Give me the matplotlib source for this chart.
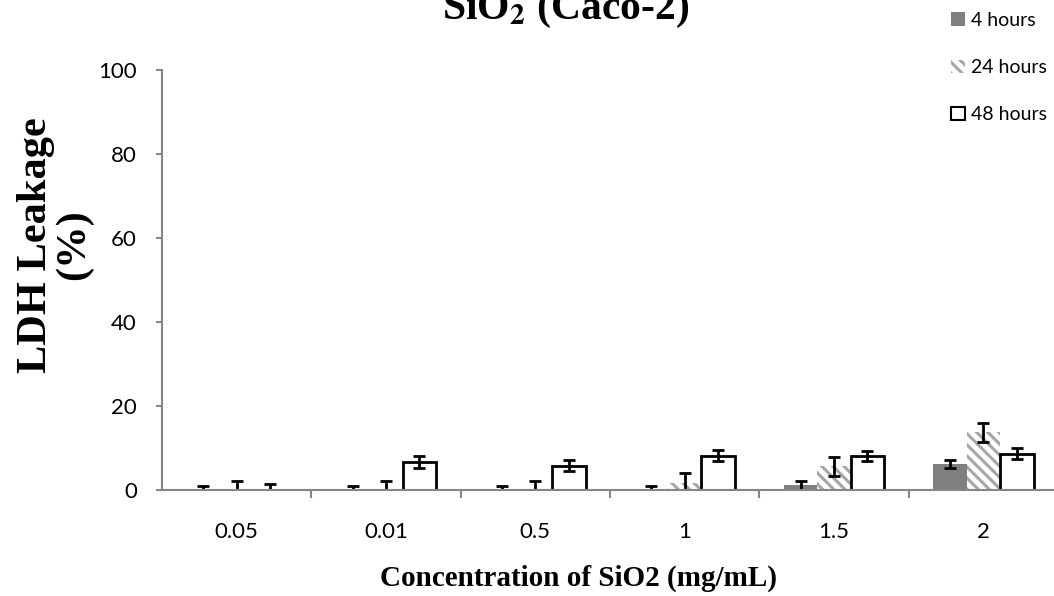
import matplotlib.pyplot as plt
import matplotlib.patches as mpatches
import numpy as np

# Data
categories = ['0.05', '0.01', '0.5', '1', '1.5', '2']
labels = ['4 hours', '24 hours', '48 hours']
h4 = [0, 0, 0, 0, 1.1, 6.2]
h4_err = [1.0, 1.0, 1.0, 1.0, 1.0, 1.0]
h24 = [0, 0, 0, 1.6, 5.6, 13.7]
h24_err = [2.2, 2.2, 2.2, 2.4, 2.2, 2.2]
h48 = [0, 6.7, 5.8, 8.2, 8.1, 8.6]
h48_err = [1.4, 1.4, 1.3, 1.3, 1.3, 1.3]

plt.rcParams['hatch.linewidth'] = 2.2
plt.rcParams['hatch.color'] = '#a6a6a6'
plt.rcParams['mathtext.fontset'] = 'stix'

W, H = 1054, 596
fig = plt.figure(figsize=(W / 100, H / 100), dpi=100)
ax = fig.add_axes([162 / W, 1 - 490 / H, 896 / W, 420 / H])

x = np.arange(len(categories))
w = 0.224
grey = '#868686'
err_kw = dict(ecolor='black', elinewidth=2, capsize=4.5, capthick=2)

ax.bar(x - w, h4, w, color='#7f7f7f', linewidth=0, zorder=2)
ax.bar(x, h24, w, color='white', hatch='\\\\\\', edgecolor='#a6a6a6',
       linewidth=0, zorder=2)
ax.bar(x + w, h48, w, color='white', edgecolor='black',
       linewidth=[2 if v > 0 else 0 for v in h48], zorder=2)
ax.errorbar(x - w, h4, yerr=h4_err, fmt='none', zorder=3, **err_kw)
ax.errorbar(x, h24, yerr=h24_err, fmt='none', zorder=3, **err_kw)
ax.errorbar(x + w, h48, yerr=h48_err, fmt='none', zorder=3, **err_kw)

ax.set_xlim(-0.5, len(categories) - 0.5)
ax.set_ylim(0, 100)
ax.set_yticks(np.arange(0, 101, 20))

for s in ['top', 'right']:
    ax.spines[s].set_visible(False)
for s in ['left', 'bottom']:
    ax.spines[s].set_color(grey)
    ax.spines[s].set_linewidth(1.5)
    ax.spines[s].set_zorder(4)

tick_font = dict(family='Lato', size=16)
ax.set_xticks(x)
ax.set_xticklabels(categories, fontdict=tick_font)
ax.set_xticks(np.arange(0.5, len(categories) - 0.5, 1), minor=True)
ax.tick_params(axis='x', which='major', length=0, pad=23)
ax.tick_params(axis='x', which='minor', length=6, width=1.5, color=grey)
ax.tick_params(axis='y', length=4, width=1.5, color=grey, pad=14, labelsize=16)
for lab in ax.get_yticklabels():
    lab.set_family('Lato')

serif = 'Liberation Serif'
fig.text(566 / W, 1 - 19 / H, r'SiO$_\mathbf{2}$ (Caco-2)', family=serif,
         weight='bold', size=30, ha='center', va='baseline')
fig.text(55 / W, 1 - 245 / H, 'LDH Leakage\n(%)', family=serif, weight='bold',
         size=30.5, rotation=90, ha='center', va='center', multialignment='center',
         linespacing=1.0)
fig.text(578 / W, 1 - 578 / H, 'Concentration of SiO2 (mg/mL)', family=serif,
         weight='bold', size=21, ha='center', va='center')

handles = [
    mpatches.Patch(facecolor='#7f7f7f', linewidth=0),
    mpatches.Patch(facecolor='white', hatch='\\\\\\', edgecolor='#a6a6a6', linewidth=0),
    mpatches.Patch(facecolor='white', edgecolor='black', linewidth=1.5),
]
fig.legend(handles, labels, loc='upper left', bbox_to_anchor=(951 / W, 1 - 12 / H),
           frameon=False, prop=dict(family='Lato', size=14), handlelength=0.7,
           handleheight=0.7, handletextpad=0.35, labelspacing=1.55, borderpad=0,
           borderaxespad=0)

fig.savefig('out.png', dpi=100)
